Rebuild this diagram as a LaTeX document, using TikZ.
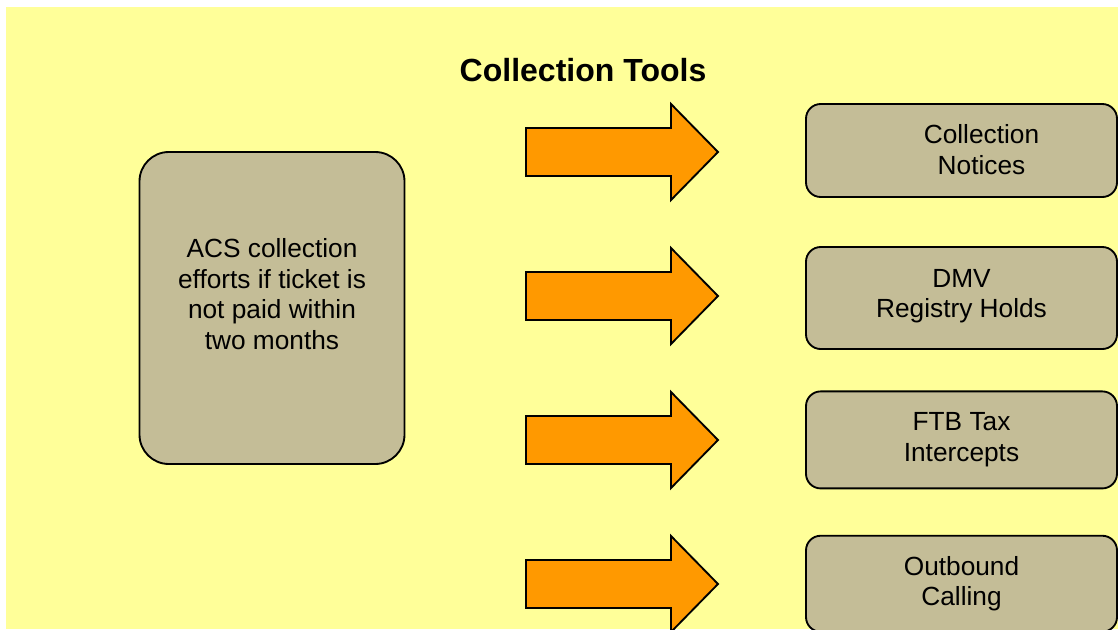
\documentclass[tikz,border=0pt]{standalone}
\usepackage{fontspec}
\setmainfont{Liberation Sans}
\usetikzlibrary{positioning}
\definecolor{sheet}{HTML}{FFFF99}
\definecolor{khaki}{HTML}{C4BD97}
\definecolor{pumpkin}{HTML}{FF9900}
\begin{document}
\begin{tikzpicture}[x=0.75pt, y=-0.75pt,
  box/.style = {rectangle, draw, fill = khaki, line width = 1.4pt, rounded corners = 11pt, minimum width = 233.25pt, inner sep = 0pt, outer sep = 0pt},
  words/.style = {align = center, font = \fontsize{19.7}{22.9}\selectfont},
  blockarrow/.style = {draw, fill = pumpkin, line width = 1.4pt, line join = miter}]

\clip (0,0) rectangle (1118,629);
\fill[sheet] (6,7) rectangle (1118,629);

\node(title) [font = \bfseries\fontsize{24}{28}\selectfont] at (583,70) {Collection Tools};

\node(acs) [box, minimum width = 198.75pt, minimum height = 234pt, rounded corners = 22pt] at (272,308) {};
\node(acstext) [words] at ([yshift = 10.5pt]acs.center) {ACS collection\\efforts if ticket is\\not paid within\\two months};

\node(notices) [box, minimum height = 69.75pt] at (961.5,150.5) {};
\node(holds) [box, minimum height = 76.5pt, below = 37.5pt of notices] {};
\node(intercepts) [box, minimum height = 72.75pt, below = 31.8pt of holds] {};
\node(calling) [box, minimum height = 72pt, below = 35.5pt of intercepts] {};

\node[words] at ([xshift = 15pt, yshift = 0.75pt]notices.center) {Collection\\Notices};
\node[words] at ([yshift = 1.3pt]holds.center) {DMV\\Registry Holds};
\node[words] at (intercepts.center) {FTB Tax\\Intercepts};
\node[words] at (calling.center) {Outbound\\Calling};

\foreach \y in {152,296,440,584}
  \draw[blockarrow] (526,{\y-24}) -- (671,{\y-24}) -- (671,{\y-48}) -- (718,\y) -- (671,{\y+48}) -- (671,{\y+24}) -- (526,{\y+24}) -- cycle;
\end{tikzpicture}
\end{document}
